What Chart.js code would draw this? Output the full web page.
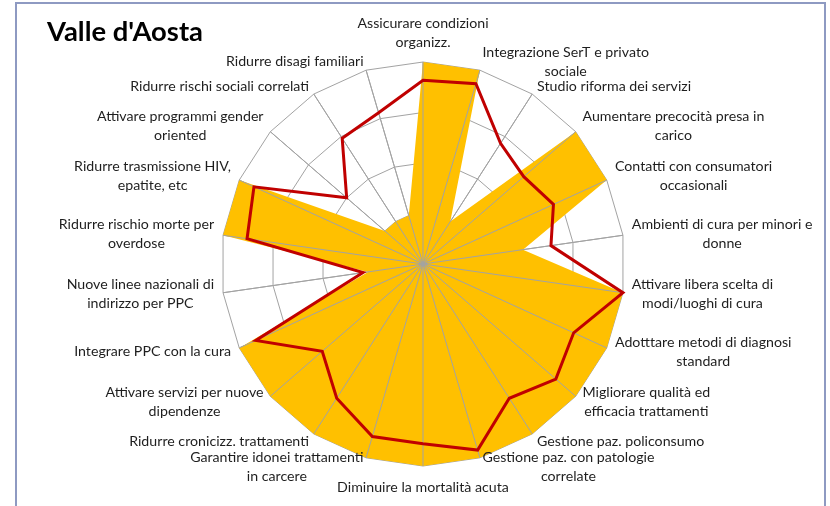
<!DOCTYPE html>
<html><head><meta charset="utf-8">
<script src="https://cdn.jsdelivr.net/npm/chart.js@4.4.0/dist/chart.umd.min.js"></script>
<style>html,body{margin:0;padding:0;background:#fff;overflow:hidden;}</style>
</head><body>
<canvas id="c" width="830" height="506"></canvas>
<script>
const chartTitle = "Valle d'Aosta";
const categories = [
  ["Assicurare condizioni", "organizz."],
  ["Integrazione SerT e privato", "sociale"],
  ["Studio riforma dei servizi"],
  ["Aumentare precocità presa in", "carico"],
  ["Contatti con consumatori", "occasionali"],
  ["Ambienti di cura per minori e", "donne"],
  ["Attivare libera scelta di", "modi/luoghi di cura"],
  ["Adotttare metodi di diagnosi", "standard"],
  ["Migliorare qualità ed", "efficacia trattamenti"],
  ["Gestione paz. policonsumo"],
  ["Gestione paz. con patologie", "correlate"],
  ["Diminuire la mortalità acuta"],
  ["Garantire idonei trattamenti", "in carcere"],
  ["Ridurre cronicizz. trattamenti"],
  ["Attivare servizi per nuove", "dipendenze"],
  ["Integrare PPC con la cura"],
  ["Nuove linee nazionali di", "indirizzo per PPC"],
  ["Ridurre rischio morte per", "overdose"],
  ["Ridurre trasmissione HIV,", "epatite, etc"],
  ["Attivare programmi gender", "oriented"],
  ["Ridurre rischi sociali correlati"],
  ["Ridurre disagi familiari"]
];
const yellowValues = [4, 4, 1, 4, 4, 2, 4, 4, 4, 4, 4, 4, 4, 4, 4, 4, 1.1, 4, 4, 1, 1, 1];
const redValues = [3.64, 3.72, 2.84, 2.64, 2.84, 2.56, 4, 3.28, 3.48, 3.16, 3.84, 3.56, 3.56, 3.16, 2.64, 3.64, 1.2, 3.52, 3.68, 2, 2.96, 3.12];
const scaleMin = 0, scaleMax = 4, scaleStep = 1;

const gridColor = '#A3A3A3';
const labelFont = '14.2px Lato';
const titleFont = 'bold 27.4px Lato';

const framePlugin = {
  id: 'frame',
  beforeDraw(chart) {
    const ctx = chart.ctx;
    ctx.save();
    ctx.fillStyle = '#ffffff';
    ctx.fillRect(0, 0, chart.width, chart.height);
    ctx.strokeStyle = '#8E9AC2';
    ctx.lineWidth = 2;
    ctx.strokeRect(16, 3, 809, 530);
    ctx.restore();
  }
};

const spokePlugin = {
  id: 'spokes',
  beforeDatasetDraw(chart, args) {
    if (args.index !== 1) return;
    const s = chart.scales.r, ctx = chart.ctx;
    ctx.save();
    ctx.strokeStyle = gridColor;
    ctx.lineWidth = 1;
    for (let i = 0; i < categories.length; i++) {
      const p = s.getPointPosition(i, s.drawingArea);
      ctx.beginPath();
      ctx.moveTo(s.xCenter, s.yCenter);
      ctx.lineTo(p.x, p.y);
      ctx.stroke();
    }
    ctx.restore();
  }
};

const labelPlugin = {
  id: 'catLabels',
  afterDraw(chart) {
    const s = chart.scales.r, ctx = chart.ctx;
    ctx.save();
    ctx.fillStyle = '#000000';
    ctx.font = titleFont;
    ctx.textAlign = 'left';
    ctx.textBaseline = 'alphabetic';
    ctx.fillText(chartTitle, 47, 41);

    ctx.font = labelFont;
    ctx.fillStyle = '#1e1e1e';
    ctx.textBaseline = 'middle';
    ctx.textAlign = 'center';
    const lh = 19;
    const n = categories.length;
    categories.forEach((lines, i) => {
      const th = i * 2 * Math.PI / n;
      const sn = Math.sin(th), cs = Math.cos(th);
      const tip = s.getPointPosition(i, s.drawingArea);
      const w = Math.max(...lines.map(l => ctx.measureText(l).width));
      const h = lines.length * lh;
      let cx, top;
      if (Math.abs(sn) < 1e-6) {
        cx = tip.x;
        top = cs > 0 ? tip.y - 10 - h : tip.y + 12;
      } else {
        const ax = tip.x + 9 * sn, ay = tip.y - 9 * cs;
        cx = sn > 0 ? ax + w / 2 : ax - w / 2;
        top = ay - h / 2;
      }
      lines.forEach((l, k) => ctx.fillText(l, cx, top + lh * (k + 0.5)));
    });
    ctx.restore();
  }
};

new Chart(document.getElementById('c'), {
  type: 'radar',
  data: {
    labels: categories,
    datasets: [
      { label: 'A', data: yellowValues, backgroundColor: '#FFC000', borderColor: '#FFC000', borderWidth: 0, pointRadius: 0, fill: true, order: 2 },
      { label: 'B', data: redValues, borderColor: '#C00000', backgroundColor: 'rgba(0,0,0,0)', borderWidth: 3, borderJoinStyle: 'miter', pointRadius: 0, fill: false, order: 1 }
    ]
  },
  options: {
    responsive: false,
    animation: false,
    devicePixelRatio: 1,
    layout: { padding: { top: 62, bottom: 40, left: 100, right: 84 } },
    plugins: { legend: { display: false }, tooltip: { enabled: false } },
    scales: {
      r: {
        min: scaleMin, max: scaleMax,
        ticks: { display: false, stepSize: scaleStep },
        grid: { color: gridColor, lineWidth: 1, circular: false },
        angleLines: { color: gridColor, lineWidth: 1 },
        pointLabels: { display: false }
      }
    }
  },
  plugins: [framePlugin, spokePlugin, labelPlugin]
});
</script>
</body></html>
